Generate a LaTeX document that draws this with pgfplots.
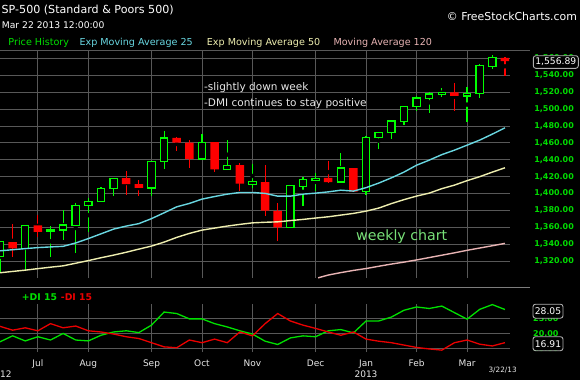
\documentclass[border=0pt]{standalone}
\usepackage{pgfplots}
\pgfplotsset{compat=1.18}
\usepackage{pgfplotstable}
\usepackage{fontspec}
\setmainfont{DejaVu Sans}
\definecolor{cgreen}{RGB}{0,255,0}
\definecolor{cred}{RGB}{255,0,0}
\definecolor{emaA}{RGB}{105,215,225}
\definecolor{emaB}{RGB}{238,238,175}
\definecolor{maC}{RGB}{232,180,180}
\definecolor{digreen}{RGB}{0,225,0}
\definecolor{dired}{RGB}{235,0,0}
\definecolor{tickgreen}{RGB}{0,220,0}
\definecolor{gridc}{RGB}{88,88,88}
\definecolor{sepc}{RGB}{125,125,125}
\definecolor{txtc}{RGB}{232,232,232}
\definecolor{wkgreen}{RGB}{120,225,120}
\definecolor{boxc}{RGB}{175,175,175}
\newcommand\fs[1]{\fontsize{#1bp}{#1bp}\selectfont}
\pgfplotsset{ov/.style={at={(0bp,102bp)}, anchor=south west, scale only axis,
  width=510bp, height=228bp, xmin=-3, xmax=37.4, ymin=1300, ymax=1570, hide axis}}

% weekly candles: index (0 = week of Jul 6 2012), open, high, low, close
\pgfplotstableread{
i o h l c
-3 1325.9 1344.0 1306.6 1342.8
-1 1334.9 1362.2 1309.2 1362.2
1 1354.7 1361.5 1325.4 1356.8
2 1356.8 1380.4 1345.1 1362.7
3 1362.2 1389.2 1329.2 1386.0
4 1386.0 1394.2 1354.7 1391.0
5 1391.0 1408.1 1390.7 1405.9
6 1405.9 1418.7 1397.3 1418.2
9 1406.5 1438.4 1396.6 1437.9
10 1437.9 1474.5 1428.9 1465.8
13 1440.9 1471.0 1440.1 1460.9
15 1428.6 1464.0 1428.0 1433.2
17 1410.8 1434.9 1406.8 1414.2
20 1359.9 1409.2 1359.0 1409.2
21 1408.0 1419.1 1385.1 1416.2
22 1415.0 1424.6 1403.0 1418.1
24 1413.6 1447.5 1412.7 1430.2
26 1402.4 1467.9 1398.1 1466.5
27 1466.5 1473.1 1452.3 1472.1
28 1472.1 1486.5 1464.1 1486.0
29 1485.0 1504.0 1481.0 1503.0
30 1502.7 1515.4 1497.6 1513.2
31 1512.5 1520.5 1495.6 1517.9
32 1517.4 1524.5 1514.5 1519.8
34 1515.6 1525.7 1485.0 1518.2
35 1518.2 1553.3 1513.4 1551.2
36 1550.8 1563.9 1547.3 1560.7
}\upc
\pgfplotstableread{
i o h l c
-2 1342.4 1363.5 1324.4 1335.0
0 1362.3 1374.8 1348.8 1354.7
7 1418.2 1426.7 1398.2 1411.1
8 1411.1 1415.9 1397.0 1406.6
11 1465.8 1467.1 1450.2 1460.2
12 1460.2 1463.3 1430.5 1440.7
14 1460.9 1461.4 1425.5 1428.6
16 1433.7 1436.4 1402.9 1411.9
18 1413.5 1433.7 1373.6 1379.9
19 1379.6 1388.3 1343.4 1359.9
23 1418.6 1438.8 1412.0 1413.6
25 1430.1 1430.5 1401.6 1402.4
33 1519.8 1531.1 1498.0 1515.6
37 1560.7 1562.0 1539.4 1556.9
}\downc
\pgfplotstableread{
i v
-3 1332.2
-2 1333.5
-1 1334.8
0 1336.0
1 1336.8
2 1337.5
3 1341.5
4 1346.7
5 1352.3
6 1357.9
7 1361.5
8 1364.4
9 1370.3
10 1377.2
11 1384.3
12 1388.3
13 1393.4
14 1396.5
15 1399.3
16 1401.3
17 1401.3
18 1400.2
19 1396.9
20 1396.9
21 1399.3
22 1400.5
23 1402.0
24 1404.0
25 1402.9
26 1407.0
27 1412.4
28 1418.6
29 1425.4
30 1433.6
31 1439.6
32 1446.1
33 1451.4
34 1457.3
35 1463.3
36 1470.4
37 1477.8
}\emaa
\pgfplotstableread{
i v
-3 1306.2
-2 1307.8
-1 1309.3
0 1311.1
1 1312.8
2 1314.4
3 1317.5
4 1320.6
5 1324.0
6 1327.1
7 1330.5
8 1334.2
9 1337.8
10 1342.5
11 1348.1
12 1352.8
13 1356.7
14 1359.1
15 1361.5
16 1363.5
17 1365.3
18 1366.0
19 1366.5
20 1368.0
21 1369.4
22 1371.0
23 1372.5
24 1374.5
25 1376.5
26 1379.2
27 1382.8
28 1388.1
29 1392.8
30 1397.0
31 1400.5
32 1405.8
33 1410.0
34 1415.3
35 1420.0
36 1425.4
37 1430.5
}\emab
\pgfplotstableread{
i v
22.2 1300.2
23 1303.5
24 1306.4
25 1309.0
26 1311.2
27 1313.9
28 1316.5
29 1318.8
30 1321.4
31 1324.2
32 1327.0
33 1329.8
34 1332.8
35 1335.5
36 1338.2
37 1341.0
}\mac
\pgfplotstableread{
i p m
-3 17.2 22.4
-2 19.2 21.1
-1 17.5 21.9
0 18.9 20.9
1 17.8 23.3
2 20.0 21.9
3 17.8 22.5
4 17.5 20.9
5 19.4 20.5
6 20.5 19.8
7 20.9 18.9
8 20.3 18.3
9 22.8 16.9
10 27.2 15.5
11 26.7 15.2
12 24.9 17.8
13 24.9 16.9
14 23.3 18.1
15 22.2 16.9
16 20.9 20.5
17 19.8 19.2
18 17.4 23.3
19 16.3 26.7
20 18.5 24.2
21 19.2 22.8
22 18.9 21.7
23 20.9 20.5
24 21.3 19.4
25 20.2 20.5
26 24.2 18.1
27 24.2 17.4
28 25.5 16.9
29 27.8 16.1
30 28.9 15.3
31 28.4 14.8
32 29.2 14.4
33 27.0 16.9
34 24.8 17.8
35 28.1 16.4
36 29.7 15.8
37 28.05 16.91
}\dmi

\begin{document}
\begin{tikzpicture}[x=1bp,y=1bp]
\useasboundingbox (0,0) rectangle (580,380);
\fill[black] (0,0) rectangle (580,380);

% main price panel: grid, tick labels, wicks
\begin{axis}[
  at={(0bp,102bp)}, anchor=south west, scale only axis,
  width=510bp, height=228bp,
  xmin=-3, xmax=37.4, ymin=1300, ymax=1570,
  axis line style={draw=none}, major tick length=0pt,
  xtick={0,4,9,13,17,22,26,30,34}, xticklabel=\empty,
  ytick={1320,1340,...,1560},
  yticklabel pos=right,
  grid=major, grid style={draw=gridc, line width=0.9bp},
  yticklabel style={font=\fs{8}\bfseries, text=tickgreen, anchor=east, inner sep=0pt, xshift=64bp},
  /pgf/number format/.cd, fixed, fixed zerofill, precision=2, 1000 sep={,}, assume math mode=true,
]
\addplot[only marks, mark=none, error bars/.cd, y dir=both, y explicit, error mark=none,
  error bar style={draw=cgreen, line width=1.2bp}]
  table[x=i, y expr={(\thisrow{h}+\thisrow{l})/2}, y error expr={(\thisrow{h}-\thisrow{l})/2}] {\upc};
\addplot[only marks, mark=none, error bars/.cd, y dir=both, y explicit, error mark=none,
  error bar style={draw=cred, line width=1.2bp}]
  table[x=i, y expr={(\thisrow{h}+\thisrow{l})/2}, y error expr={(\thisrow{h}-\thisrow{l})/2}] {\downc};
\end{axis}

% up bodies (hollow green)
\begin{axis}[ov, ybar stacked, bar width=7.3bp]
\addplot[draw=none, fill=none] table[x=i, y expr={min(\thisrow{o},\thisrow{c})}] {\upc};
\addplot[draw=cgreen, fill=black, line width=1.2bp] table[x=i, y expr={abs(\thisrow{c}-\thisrow{o})}] {\upc};
\end{axis}

% down bodies (filled red)
\begin{axis}[ov, ybar stacked, bar width=8.5bp]
\addplot[draw=none, fill=none] table[x=i, y expr={min(\thisrow{o},\thisrow{c})}] {\downc};
\addplot[draw=none, fill=cred] table[x=i, y expr={abs(\thisrow{c}-\thisrow{o})}] {\downc};
\end{axis}

% moving averages
\begin{axis}[ov]
\addplot[emaA, line width=1.4bp, mark=none] table[x=i, y=v] {\emaa};
\addplot[emaB, line width=1.4bp, mark=none] table[x=i, y=v] {\emab};
\addplot[maC, line width=1.4bp, mark=none] table[x=i, y=v] {\mac};
\end{axis}

% DMI panel
\begin{axis}[
  at={(0bp,28bp)}, anchor=south west, scale only axis,
  width=510bp, height=48bp,
  xmin=-3, xmax=37.4, ymin=13.77, ymax=29.9,
  axis line style={draw=none}, major tick length=0pt,
  xtick={0,4,9,13,17,22,26,30,34},
  xticklabels={Jul,Aug,Sep,Oct,Nov,Dec,Jan,Feb,Mar},
  xticklabel style={font=\fs{9}, text=txtc, anchor=base, inner sep=0pt, yshift=-14bp},
  ytick={15,20,25}, yticklabel pos=right,
  grid=major, grid style={draw=gridc, line width=0.9bp},
  yticklabel style={font=\fs{8}\bfseries, text=tickgreen, anchor=west, inner sep=0pt, xshift=23bp},
  clip=false,
  /pgf/number format/.cd, fixed, fixed zerofill, precision=2, assume math mode=true,
]
\addplot[digreen, line width=1.3bp, mark=none] table[x=i, y=p] {\dmi};
\addplot[dired, line width=1.3bp, mark=none] table[x=i, y=m] {\dmi};
\end{axis}

% frame lines
\draw[gridc, line width=0.9bp] (0,330) -- (530,330);
\draw[sepc, line width=0.9bp] (0,93) -- (530,93);

% header texts
\node[anchor=base west, inner sep=0pt, font=\fs{11.1}, text=white] at (1.5,366.7) {SP-500 (Standard \& Poors 500)};
\node[anchor=base west, inner sep=0pt, font=\fs{9.2}, text=white] at (1.7,352) {Mar 22 2013 12:00:00};
\node[anchor=base west, inner sep=0pt, font=\fs{10.9}, text=white] at (446.7,359.3) {© FreeStockCharts.com};
\node[anchor=base west, inner sep=0pt, font=\fs{9.6}, text=digreen] at (8.3,334.3) {Price History};
\node[anchor=base west, inner sep=0pt, font=\fs{9.6}, text=emaA] at (79.3,334.3) {Exp Moving Average 25};
\node[anchor=base west, inner sep=0pt, font=\fs{9.6}, text=emaB] at (206.7,334.3) {Exp Moving Average 50};
\node[anchor=base west, inner sep=0pt, font=\fs{9.6}, text=maC] at (333.3,334.3) {Moving Average 120};

% annotations
\node[anchor=base west, inner sep=0pt, font=\fs{10.5}, text=txtc] at (204,289.3) {-slightly down week};
\node[anchor=base west, inner sep=0pt, font=\fs{10.5}, text=txtc] at (204,273.3) {-DMI continues to stay positive};
\node[anchor=base west, inner sep=0pt, font=\fs{14.2}, text=wkgreen] at (356,140) {weekly chart};

% DI legend
\node[anchor=base west, inner sep=0pt, font=\fs{9.3}\bfseries, text=digreen] at (21.7,80) {+DI 15};
\node[anchor=base west, inner sep=0pt, font=\fs{9.3}\bfseries, text=dired] at (60.7,80) {-DI 15};

% bottom texts
\node[anchor=base, inner sep=0pt, font=\fs{9}, text=txtc] at (366,2.7) {2013};
\node[anchor=base west, inner sep=0pt, font=\fs{9}, text=txtc] at (0,2.7) {12};
\node[anchor=base west, inner sep=0pt, font=\fs{7.3}, text=txtc] at (488.3,8) {3/22/13};

% last value boxes
\node[draw=boxc, fill=black, rounded corners=2.5bp, line width=0.9bp, text=white, font=\fs{9.2}, inner sep=0pt, minimum width=45bp, minimum height=12.6bp] at (555.8,318) {1,556.89};
\node[draw=boxc, fill=black, rounded corners=2.5bp, line width=0.9bp, text=white, font=\fs{9.2}, inner sep=0pt, minimum width=30bp, minimum height=14bp] at (548,68.8) {28.05};
\node[draw=boxc, fill=black, rounded corners=2.5bp, line width=0.9bp, text=white, font=\fs{9.2}, inner sep=0pt, minimum width=30bp, minimum height=14bp] at (548,36.3) {16.91};
\end{tikzpicture}
\end{document}
